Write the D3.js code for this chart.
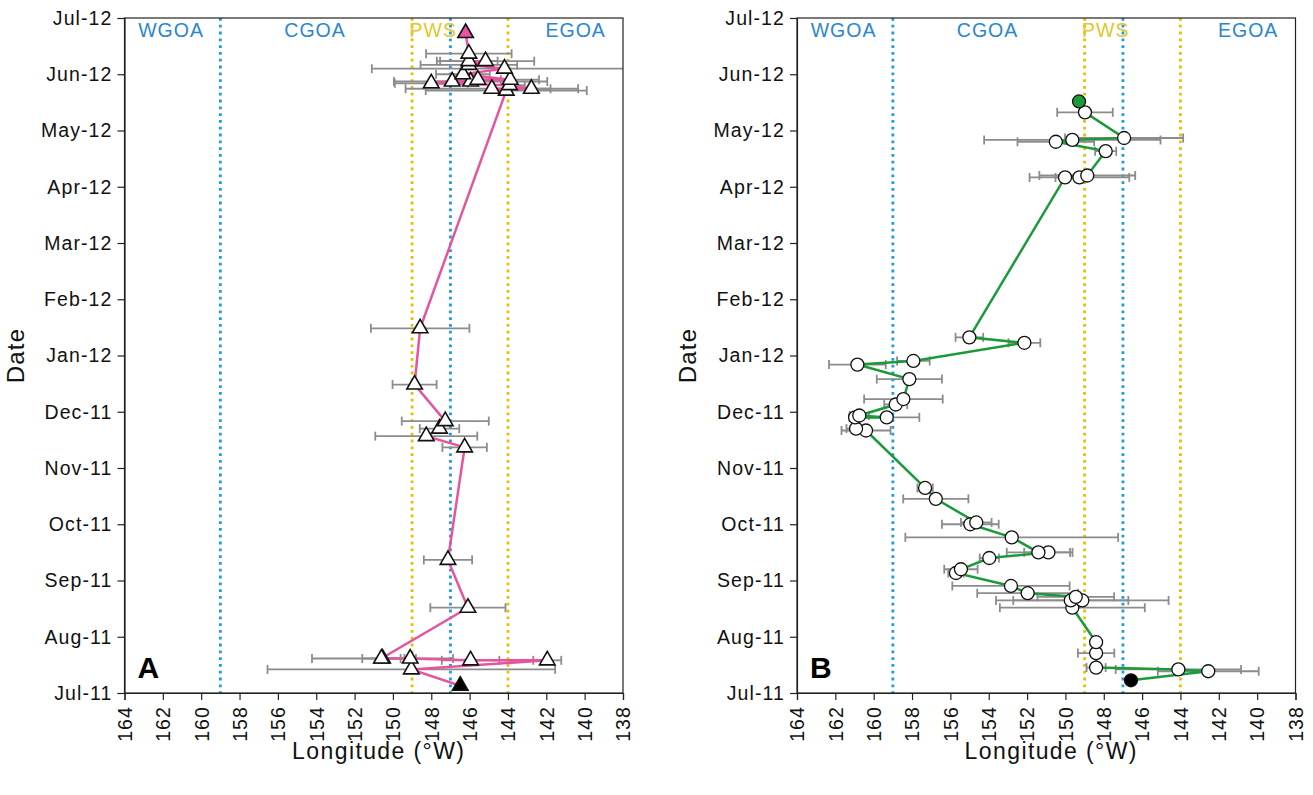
<!DOCTYPE html>
<html><head><meta charset="utf-8">
<script src="https://cdn.jsdelivr.net/npm/d3@7"></script>
<style>body{margin:0;background:#fff}svg{display:block}</style>
</head><body><svg id="c" width="1313" height="795"></svg>
<script>
// ---------- data ----------
const monthLabels = ["Jul-11","Aug-11","Sep-11","Oct-11","Nov-11","Dec-11","Jan-12","Feb-12","Mar-12","Apr-12","May-12","Jun-12","Jul-12"];
const lonTicks = [164,162,160,158,156,154,152,150,148,146,144,142,140,138];
const boundaryLon = [159,149,147,144];
const boundaryKind = ["blue","yellow","blue","yellow"];
const regionNames = ["WGOA","CGOA","PWS","EGOA"];
const regionLabelLon = [161.57,154.06,147.9,140.47];
const regionKind = ["blue","blue","yellow","blue"];

// Panel A (triangles)
const aDates = ["2011-07-05","2011-07-14","2011-07-19","2011-07-19","2011-07-20","2011-07-20","2011-07-20",
  "2011-08-17","2011-09-12","2011-11-12","2011-11-18","2011-11-22","2011-11-26","2011-12-16","2012-01-16",
  "2012-05-23","2012-05-24","2012-05-24","2012-05-26","2012-05-27","2012-05-28","2012-05-28","2012-05-29","2012-05-29",
  "2012-06-01","2012-06-04","2012-06-06","2012-06-08","2012-06-08","2012-06-12","2012-06-23"];
const aLon = [146.49,149.04,141.95,145.95,149.1,150.54,150.6,
  146.09,147.13,146.26,148.26,147.57,147.27,148.87,148.58,
  144.09,144.84,142.78,143.92,148.0,146.91,145.95,145.57,143.88,
  146.35,144.18,146.04,145.17,146.04,146.04,146.21];
const aErr = [0,7.5,0.73,1.5,0.3,3.68,1.0,
  1.96,1.26,1.16,2.66,1.03,2.27,1.15,2.57,
  4.2,4.5,1.0,0.8,1.9,1.0,4.0,1.2,1.5,
  1.4,6.92,2.52,2.54,1.5,2.23,0];

// Panel B (circles)
const bDates = ["2011-07-08","2011-07-13","2011-07-14","2011-07-15","2011-07-23","2011-07-29",
  "2011-08-17","2011-08-21","2011-08-21","2011-08-23","2011-08-25","2011-08-29",
  "2011-09-05","2011-09-07","2011-09-13","2011-09-16","2011-09-16","2011-09-24",
  "2011-10-01","2011-10-02","2011-10-15","2011-10-21",
  "2011-11-21","2011-11-22","2011-11-28","2011-11-28","2011-11-29",
  "2011-12-05","2011-12-08","2011-12-19","2011-12-27","2011-12-29",
  "2012-01-08","2012-01-11",
  "2012-04-06","2012-04-06","2012-04-07","2012-04-20","2012-04-25","2012-04-26","2012-04-27",
  "2012-05-11","2012-05-17"];
const bLon = [146.58,142.55,144.11,148.4,148.4,148.4,
  149.64,149.72,149.12,149.46,151.97,152.84,
  155.71,155.45,153.97,150.89,151.41,152.8,
  154.96,154.65,156.76,157.32,
  160.4,160.92,160.97,159.32,160.75,
  158.85,158.45,158.14,160.85,157.93,
  152.14,155.01,
  150.02,149.27,148.86,147.9,150.5,149.64,146.94,
  148.98,149.29];
const bErr = [0,2.63,3.27,0.5,0.95,0,
  3.78,3.0,4.5,2.0,2.63,3.06,
  0.4,0.87,0.5,1.26,1.65,5.55,
  1.48,0.8,1.7,0.4,
  1.28,0.5,0.3,1.7,0.5,
  0.6,2.05,1.7,1.48,0.85,
  0.83,0.72,
  0.5,2.6,2.5,0.55,2.0,4.6,3.08,
  1.45,0];

// ---------- styles ----------
const FONT = "'Liberation Sans', Arial, Helvetica, sans-serif";
const colors = {blue:"#1f9be3", yellow:"#e6bf0a", blueText:"#2a86d1", yellowText:"#e3c62a",
  pink:"#e5549d", green:"#1b9a3a", err:"#8c8c8c"};

function monthPos(s){
  const [y,m,d] = s.split("-").map(Number);
  const dim = new Date(y, m, 0).getDate();
  return (y-2011)*12 + (m-7) + (d-1)/dim;
}

const svg = d3.select("#c");

function panel(cfg){
  const L = cfg.left, R = cfg.left + 498.5, T = 18, B = 693;
  const x = d3.scaleLinear().domain([164,138]).range([L,R]);
  const y = d3.scaleLinear().domain([0,12]).range([B,T]);
  const g = svg.append("g");
  const clipId = "clip"+cfg.id;
  svg.append("clipPath").attr("id",clipId).append("rect")
    .attr("x",L).attr("y",T).attr("width",R-L).attr("height",B-T);

  // region boundaries
  g.selectAll(".bnd").data(boundaryLon).join("line")
    .attr("x1",d=>x(d)).attr("x2",d=>x(d)).attr("y1",T).attr("y2",B)
    .attr("stroke",(d,i)=>colors[boundaryKind[i]]).attr("stroke-width",2.8)
    .attr("stroke-dasharray","2.8 4");

  // region labels
  g.selectAll(".rl").data(regionNames).join("text")
    .attr("x",(d,i)=>x(regionLabelLon[i])).attr("y",37)
    .attr("text-anchor","middle").attr("font-family",FONT).attr("font-size",19.5)
    .attr("letter-spacing",1)
    .attr("fill",(d,i)=>regionKind[i]==="blue"?colors.blueText:colors.yellowText)
    .text(d=>d);

  const pts = cfg.dates.map((d,i)=>({m:monthPos(d), lon:cfg.lon[i], err:cfg.err[i]}));

  // error bars
  const eg = g.append("g").attr("clip-path",`url(#${clipId})`)
    .attr("stroke",colors.err).attr("stroke-width",1.8).attr("fill","none");
  const ep = pts.filter(p=>p.err>0);
  eg.selectAll(".eb").data(ep).join("line")
    .attr("x1",p=>x(p.lon+p.err)).attr("x2",p=>x(p.lon-p.err))
    .attr("y1",p=>y(p.m)).attr("y2",p=>y(p.m));
  eg.selectAll(".c1").data(ep).join("line")
    .attr("x1",p=>x(p.lon+p.err)).attr("x2",p=>x(p.lon+p.err))
    .attr("y1",p=>y(p.m)-4.5).attr("y2",p=>y(p.m)+4.5);
  eg.selectAll(".c2").data(ep).join("line")
    .attr("x1",p=>x(p.lon-p.err)).attr("x2",p=>x(p.lon-p.err))
    .attr("y1",p=>y(p.m)-4.5).attr("y2",p=>y(p.m)+4.5);

  // track line
  g.append("path").datum(pts)
    .attr("d",d3.line().x(p=>x(p.lon)).y(p=>y(p.m)))
    .attr("fill","none").attr("stroke",cfg.lineColor).attr("stroke-width",2.5);

  // markers
  const n = pts.length;
  const fillFor = i => i===0 ? "#000" : (i===n-1 ? cfg.lineColor : "#fff");
  if (cfg.marker==="triangle"){
    const sym = d3.symbol().type(d3.symbolTriangle).size(105);
    g.selectAll(".mk").data(pts).join("path")
      .attr("d",sym).attr("transform",p=>`translate(${x(p.lon)},${y(p.m)})`)
      .attr("fill",(p,i)=>fillFor(i)).attr("stroke","#111").attr("stroke-width",1.6);
  } else {
    g.selectAll(".mk").data(pts).join("circle")
      .attr("cx",p=>x(p.lon)).attr("cy",p=>y(p.m)).attr("r",6.5)
      .attr("fill",(p,i)=>fillFor(i)).attr("stroke","#111").attr("stroke-width",1.3);
  }

  // frame
  g.append("rect").attr("x",L).attr("y",T).attr("width",R-L).attr("height",B-T)
    .attr("fill","none").attr("stroke","#222").attr("stroke-width",1.2);

  // y axis
  const ya = g.append("g").attr("transform",`translate(${L},0)`)
    .call(d3.axisLeft(y).tickValues(d3.range(monthLabels.length)).tickFormat(i=>monthLabels[i]).tickSize(7).tickPadding(5));
  ya.select(".domain").attr("stroke","#222").attr("stroke-width",1.2);
  ya.selectAll(".tick line").attr("stroke","#222").attr("stroke-width",1.2);
  ya.selectAll("text").attr("font-family",FONT).attr("font-size",19.5).attr("letter-spacing",1.1).attr("fill","#111");

  // x axis
  const xa = g.append("g").attr("transform",`translate(0,${B})`)
    .call(d3.axisBottom(x).tickValues(lonTicks).tickFormat(d=>d).tickSize(7));
  xa.select(".domain").attr("stroke","#222").attr("stroke-width",1.2);
  xa.selectAll(".tick line").attr("stroke","#222").attr("stroke-width",1.2);
  xa.selectAll("text").attr("font-family",FONT).attr("font-size",19.5).attr("letter-spacing",1.1).attr("fill","#111")
    .attr("transform","rotate(-90)").attr("text-anchor","end")
    .attr("x",-13).attr("y",0).attr("dy","0.35em");

  // axis titles
  g.append("text").attr("x",(L+R)/2+5).attr("y",759).attr("text-anchor","middle")
    .attr("font-family",FONT).attr("font-size",23).attr("letter-spacing",1.4).attr("fill","#111")
    .text("Longitude (°W)");
  g.append("text").attr("transform",`translate(${L-101},${(T+B)/2}) rotate(-90)`)
    .attr("text-anchor","middle").attr("font-family",FONT).attr("font-size",24).attr("letter-spacing",1.2).attr("fill","#111")
    .text("Date");

  // panel letter
  g.append("text").attr("x",L+13).attr("y",678).attr("font-family",FONT).attr("font-weight","bold")
    .attr("font-size",30).attr("fill","#000").text(cfg.letter);
}

panel({id:"A", left:124.5, dates:aDates, lon:aLon, err:aErr, marker:"triangle", lineColor:colors.pink, letter:"A"});
panel({id:"B", left:797, dates:bDates, lon:bLon, err:bErr, marker:"circle", lineColor:colors.green, letter:"B"});
</script></body></html>
